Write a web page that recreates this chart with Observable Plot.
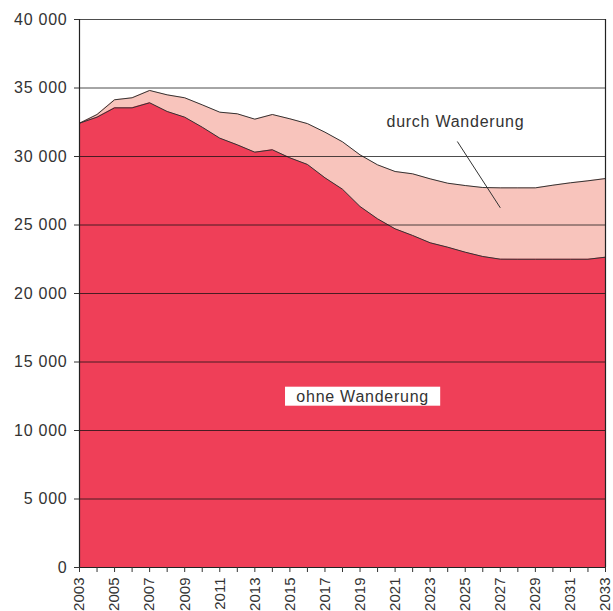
<!DOCTYPE html>
<html>
<head>
<meta charset="utf-8">
<script src="https://cdn.jsdelivr.net/npm/d3@7"></script>
<script src="https://cdn.jsdelivr.net/npm/@observablehq/plot@0.6"></script>
<style>
  body { margin: 0; background: #fff; }
  #chart svg { display: block; }
  #chart svg text { letter-spacing: 0.75px; }
  #chart svg .xlabels text { letter-spacing: 0; }
</style>
</head>
<body>
<div id="chart"></div>
<script>
const years = [2003,2004,2005,2006,2007,2008,2009,2010,2011,2012,2013,2014,2015,2016,2017,2018,2019,2020,2021,2022,2023,2024,2025,2026,2027,2028,2029,2030,2031,2032,2033];
const withMigration = [32430,33065,34140,34285,34820,34500,34285,33770,33235,33115,32725,33065,32750,32400,31775,31070,30120,29390,28905,28735,28370,28050,27880,27735,27710,27710,27710,27905,28080,28225,28390];
const withoutMigration = [32430,32870,33550,33550,33920,33285,32870,32140,31340,30850,30315,30490,29900,29420,28445,27610,26350,25450,24720,24235,23700,23380,23015,22700,22505,22500,22500,22500,22500,22500,22650];
const yTicks = [0,5000,10000,15000,20000,25000,30000,35000,40000];
const gridValues = [5000,10000,15000,20000,25000,30000,35000,40000];
const labelDurch = [{x: 2024.44, y: 32555, text: "durch Wanderung"}];
const pointerDurch = [{x1: 2024.55, y1: 31095, x2: 2027.0, y2: 26255}];
const labelOhne = [{x: 2019.15, y: 12480, text: "ohne Wanderung"}];
const boxOhne = [{x1: 2014.75, x2: 2023.6, y1: 11774, y2: 13161}];

const data = years.map((yr, i) => ({year: yr, total: withMigration[i], natural: withoutMigration[i]}));

const fmt = d => d === 0 ? "0" : d3.format(",")(d).replace(/,/g, " ");

const chart = Plot.plot({
  width: 613,
  height: 611,
  marginLeft: 79,
  marginRight: 8,
  marginTop: 19,
  marginBottom: 44,
  style: {fontFamily: "'Liberation Sans', Arial, sans-serif", fontSize: "16px", color: "#333", background: "#fff"},
  x: {domain: [2003, 2033], label: null},
  y: {domain: [0, 40000], label: null},
  marks: [
    Plot.areaY(data, {x: "year", y: "total", fill: "#F8C4BC"}),
    Plot.areaY(data, {x: "year", y: "natural", fill: "#EF3F58"}),
    Plot.lineY(data, {x: "year", y: "total", stroke: "#333", strokeWidth: 1}),
    Plot.lineY(data, {x: "year", y: "natural", stroke: "#333", strokeWidth: 1}),
    Plot.ruleY(gridValues, {stroke: "#111", strokeOpacity: 0.75, strokeWidth: 1}),
    Plot.ruleY([0], {stroke: "#222", strokeWidth: 1.2}),
    Plot.ruleX([2003, 2033], {y1: 0, y2: 40000, stroke: "#222", strokeWidth: 1.2}),
    Plot.axisY({ticks: yTicks, tickFormat: fmt, tickSize: 5, tickPadding: 7, fontSize: 16, label: null}),
    Plot.axisX({ticks: years, tickFormat: d => d % 2 === 1 ? String(d) : "", tickSize: 5, tickPadding: 5, tickRotate: -90, fontSize: 15, label: null, className: "xlabels"}),
    Plot.link(pointerDurch, {x1: "x1", y1: "y1", x2: "x2", y2: "y2", stroke: "#333", strokeWidth: 1}),
    Plot.text(labelDurch, {x: "x", y: "y", text: "text", fontSize: 16, fill: "#333"}),
    Plot.rect(boxOhne, {x1: "x1", x2: "x2", y1: "y1", y2: "y2", fill: "#fff"}),
    Plot.text(labelOhne, {x: "x", y: "y", text: "text", fontSize: 16, fill: "#333"})
  ]
});
document.getElementById("chart").append(chart);
</script>
</body>
</html>
